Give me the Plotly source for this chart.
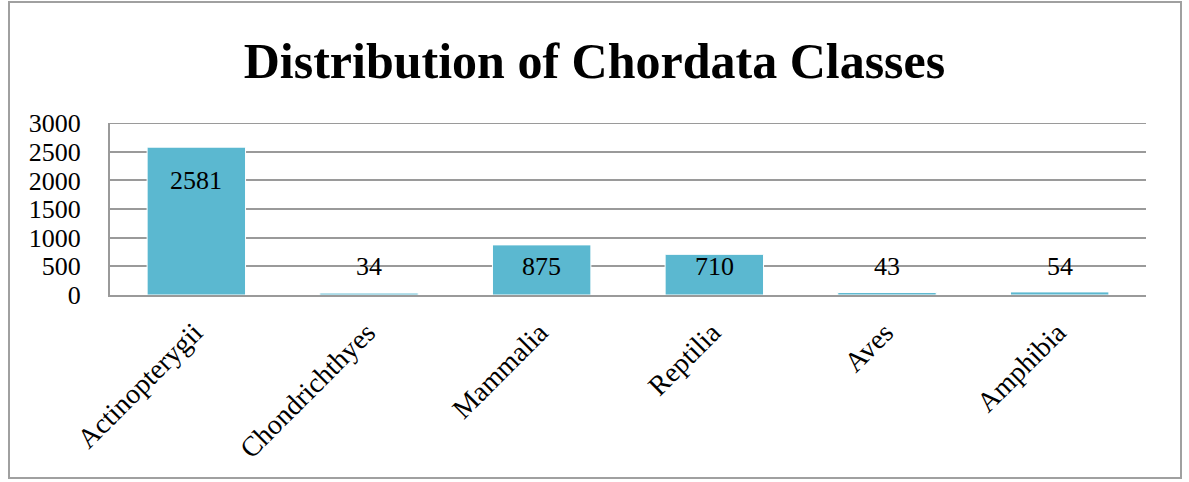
import plotly.graph_objects as go

categories = ["Actinopterygii", "Chondrichthyes", "Mammalia", "Reptilia", "Aves", "Amphibia"]
counts = [2581, 34, 875, 710, 43, 54]
y_ticks = [0, 500, 1000, 1500, 2000, 2500, 3000]
title_text = "Distribution of Chordata Classes"

BAR_COLOR = "#5bb8d0"
GRID = "#9a9a9a"
SERIF = "Liberation Serif, DejaVu Serif, serif"

fig = go.Figure()
fig.add_trace(go.Bar(
    x=categories, y=counts,
    marker=dict(color=BAR_COLOR, line=dict(color="white", width=1)),
    hoverinfo="x+y",
))

# data labels (inside end for tall bars, otherwise at a minimum height)
for c, v in zip(categories, counts):
    fig.add_annotation(x=c, y=max(v - 575, 490), text=str(v), showarrow=False,
                       yanchor="middle", font=dict(family=SERIF, size=26, color="black"))

fig.update_layout(
    width=1189, height=482,
    margin=dict(l=110, r=43, t=123, b=187),
    paper_bgcolor="white", plot_bgcolor="white",
    bargap=0.43,
    showlegend=False,
    title=dict(text="<b>" + title_text + "</b>", x=0.5, xanchor="center",
               y=1 - 60 / 482, yanchor="middle",
               font=dict(family=SERIF, size=50, color="black")),
    xaxis=dict(tickangle=-45, tickfont=dict(family=SERIF, size=28, color="black"),
               showline=True, linecolor=GRID, linewidth=2, showgrid=False,
               ticks="", ticklabelstandoff=8, ticklabelshift=-2),
    yaxis=dict(range=[0, 3003], tickvals=y_ticks, ticktext=[str(t) for t in y_ticks],
               tickfont=dict(family=SERIF, size=26, color="black"),
               showgrid=True, gridcolor=GRID, gridwidth=1.5,
               showline=True, linecolor=GRID, linewidth=2,
               zeroline=False, ticks="", ticklabelstandoff=22),
    shapes=[
        dict(type="rect", xref="paper", yref="paper",
             x0=(9 - 110) / 1036, x1=(1181 - 110) / 1036,
             y0=(295 - 478) / 172, y1=(295 - 2) / 172,
             line=dict(color="#a0a0a0", width=2), fillcolor="rgba(0,0,0,0)",
             layer="below"),
        dict(type="line", xref="paper", yref="y", x0=0, x1=1,
             y0=y_ticks[-1], y1=y_ticks[-1],
             line=dict(color=GRID, width=1.5), layer="below"),
    ],
)

fig.write_html("out.html", config={"displayModeBar": False},
               post_script="document.body.style.margin='0';")
